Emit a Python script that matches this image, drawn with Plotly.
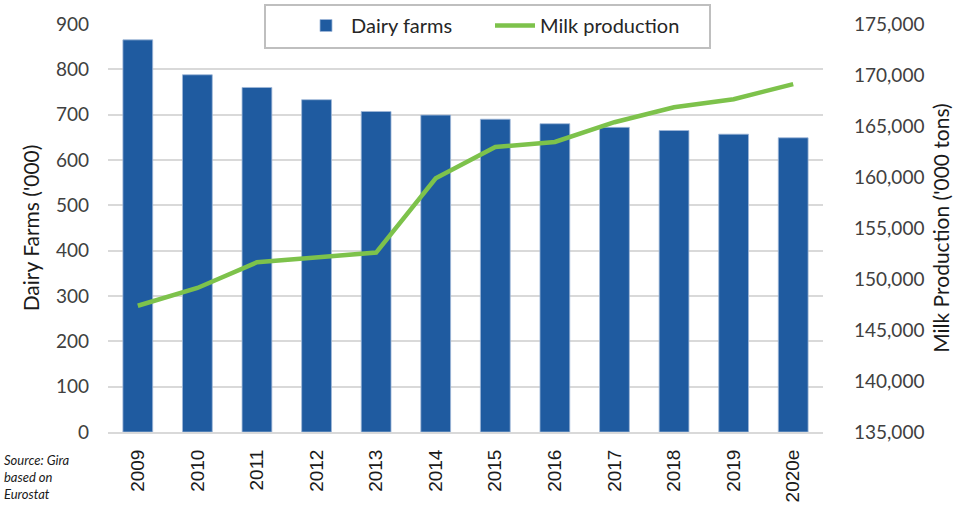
import plotly.graph_objects as go

years = ["2009", "2010", "2011", "2012", "2013", "2014", "2015", "2016", "2017", "2018", "2019", "2020e"]
dairy_farms = [865, 788, 760, 733, 707, 699, 690, 680, 672, 665, 657, 649]
milk_production = [147380, 149120, 151640, 152100, 152590, 159870, 162940, 163430, 165370, 166840, 167630, 169100]

BLUE = "#1F5BA0"
GREEN = "#7DC24B"
TXT = "#404040"
BODY_FONT = "Lato"

# plot-area pixel geometry (for converting legend box to paper coords)
L, R, T, B = 108, 823, 24, 432
def px(x):
    return (x - L) / (R - L)
def py(y):
    return (B - y) / (B - T)

fig = go.Figure()
fig.add_trace(go.Bar(
    x=years, y=dairy_farms, name="Dairy farms",
    marker=dict(color=BLUE, line=dict(color="#9FB8D8", width=0.8)),
    yaxis="y",
))
fig.add_trace(go.Scatter(
    x=years, y=milk_production, name="Milk production",
    mode="lines", line=dict(color=GREEN, width=4.5),
    yaxis="y2",
))

fig.update_layout(
    width=965, height=505,
    margin=dict(l=L, r=965 - R, t=T, b=505 - B, autoexpand=False),
    paper_bgcolor="white", plot_bgcolor="white",
    bargap=0.5,
    showlegend=True,
    legend=dict(
        orientation="h", x=px(301), y=py(6), xanchor="left", yanchor="top",
        bgcolor="rgba(0,0,0,0)", borderwidth=0,
        font=dict(family=BODY_FONT, size=20, color="#262626"),
        itemwidth=40, entrywidth=134, entrywidthmode="pixels",
    ),
    shapes=[dict(
        type="rect", xref="paper", yref="paper",
        x0=px(265), x1=px(710), y0=py(48), y1=py(5),
        fillcolor="white", line=dict(color="#BFBFBF", width=2), layer="above",
    )],
    xaxis=dict(
        type="category", tickangle=-90,
        tickfont=dict(family="Liberation Sans, Arial", size=19, color="#1a1a1a"),
        showgrid=False, showline=True, linecolor="#D9D9D9", linewidth=2,
        ticks="", ticklabelstandoff=8,
    ),
    yaxis=dict(
        range=[0, 900], dtick=100, showgrid=True, gridcolor="#D9D9D9", gridwidth=2,
        zeroline=False, showline=False, ticks="",
        tickfont=dict(family=BODY_FONT, size=19, color=TXT),
        ticklabelstandoff=18,
        title=dict(text="Dairy Farms ('000)", font=dict(family=BODY_FONT, size=21, color="#1a1a1a"), standoff=10),
    ),
    yaxis2=dict(
        range=[135000, 175000], dtick=5000, tickformat=",", overlaying="y", side="right",
        showgrid=False, zeroline=False, showline=False, ticks="",
        tickfont=dict(family=BODY_FONT, size=19, color=TXT),
        ticklabelstandoff=30,
        title=dict(text="Milk Production ('000 tons)", font=dict(family=BODY_FONT, size=21, color="#1a1a1a"), standoff=10),
    ),
    annotations=[dict(
        text="Source: Gira<br>based on<br>Eurostat",
        xref="paper", yref="paper", x=-0.148, y=-0.045, xanchor="left", yanchor="top",
        showarrow=False, align="left",
        font=dict(family=BODY_FONT, size=13, color="#1a1a1a", style="italic"),
    )],
)

fig.write_html("out.html")
